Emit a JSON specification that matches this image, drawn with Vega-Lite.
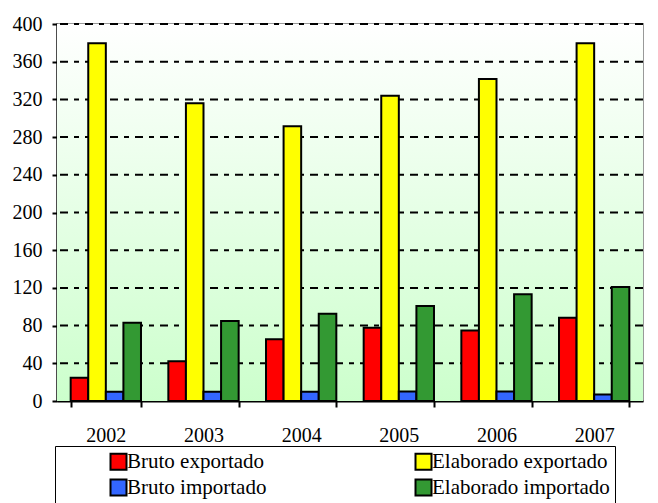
{
  "$schema": "https://vega.github.io/schema/vega-lite/v6.json",
  "width": 586,
  "height": 377,
  "autosize": "none",
  "padding": {"left": 57, "top": 24, "right": 15, "bottom": 102},
  "background": "white",
  "layer": [
    {
      "data": {"values": [{"lo": 0, "hi": 400}]},
      "mark": {
        "type": "rect",
        "color": {
          "gradient": "linear",
          "x1": 0, "y1": 0, "x2": 0, "y2": 1,
          "stops": [
            {"offset": 0, "color": "#ffffff"},
            {"offset": 1, "color": "#ccffcc"}
          ]
        }
      },
      "encoding": {
        "y": {
          "field": "lo",
          "type": "quantitative",
          "scale": {"domain": [0, 400], "nice": false},
          "axis": {
            "title": null,
            "values": [0, 40, 80, 120, 160, 200, 240, 280, 320, 360, 400],
            "labelOverlap": false
          }
        },
        "y2": {"field": "hi"}
      }
    },
    {
      "data": {"values": [{"v": 40}, {"v": 80}, {"v": 120}, {"v": 160}, {"v": 200}, {"v": 240}, {"v": 280}, {"v": 320}, {"v": 360}, {"v": 400}]},
      "mark": {"type": "rule", "color": "black", "strokeWidth": 2, "strokeDash": [8, 6, 5, 6]},
      "encoding": {
        "y": {
          "field": "v",
          "type": "quantitative",
          "axis": {
            "title": null,
            "values": [0, 40, 80, 120, 160, 200, 240, 280, 320, 360, 400],
            "labelOverlap": false
          }
        }
      }
    },
    {
      "data": {
        "values": [
          {"year": "2002", "series": "Bruto exportado", "value": 24.6},
          {"year": "2002", "series": "Elaborado exportado", "value": 379.6},
          {"year": "2002", "series": "Bruto importado", "value": 9.8},
          {"year": "2002", "series": "Elaborado importado", "value": 83},
          {"year": "2003", "series": "Bruto exportado", "value": 42.3},
          {"year": "2003", "series": "Elaborado exportado", "value": 316},
          {"year": "2003", "series": "Bruto importado", "value": 9.8},
          {"year": "2003", "series": "Elaborado importado", "value": 84.8},
          {"year": "2004", "series": "Bruto exportado", "value": 65.4},
          {"year": "2004", "series": "Elaborado exportado", "value": 291.4},
          {"year": "2004", "series": "Bruto importado", "value": 9.8},
          {"year": "2004", "series": "Elaborado importado", "value": 92.7},
          {"year": "2005", "series": "Bruto exportado", "value": 77.8},
          {"year": "2005", "series": "Elaborado exportado", "value": 323.9},
          {"year": "2005", "series": "Bruto importado", "value": 10},
          {"year": "2005", "series": "Elaborado importado", "value": 100.7},
          {"year": "2006", "series": "Bruto exportado", "value": 74.9},
          {"year": "2006", "series": "Elaborado exportado", "value": 341.6},
          {"year": "2006", "series": "Bruto importado", "value": 10},
          {"year": "2006", "series": "Elaborado importado", "value": 113.2},
          {"year": "2007", "series": "Bruto exportado", "value": 88.4},
          {"year": "2007", "series": "Elaborado exportado", "value": 379.6},
          {"year": "2007", "series": "Bruto importado", "value": 6.9},
          {"year": "2007", "series": "Elaborado importado", "value": 121}
        ]
      },
      "mark": {"type": "bar", "stroke": "black", "strokeWidth": 2},
      "encoding": {
        "x": {
          "field": "year",
          "type": "nominal",
          "scale": {"paddingInner": 0.28, "paddingOuter": 0.14},
          "axis": {
            "title": null,
            "labelAngle": 0,
            "tickBand": "extent",
            "tickSize": 6,
            "labelPadding": 18
          }
        },
        "xOffset": {
          "field": "series",
          "sort": ["Bruto exportado", "Elaborado exportado", "Bruto importado", "Elaborado importado"],
          "scale": {"paddingInner": 0, "paddingOuter": 0}
        },
        "y": {
          "field": "value",
          "type": "quantitative",
          "axis": {
            "title": null,
            "values": [0, 40, 80, 120, 160, 200, 240, 280, 320, 360, 400],
            "labelOverlap": false
          }
        },
        "color": {
          "field": "series",
          "type": "nominal",
          "scale": {
            "domain": ["Bruto exportado", "Elaborado exportado", "Bruto importado", "Elaborado importado"],
            "range": ["#ff0000", "#ffff00", "#3366ff", "#339933"]
          },
          "legend": {
            "title": null,
            "orient": "none",
            "legendX": -2,
            "legendY": 422,
            "columns": 2,
            "direction": "horizontal",
            "strokeColor": "black",
            "fillColor": "white",
            "padding": 5,
            "symbolType": "square",
            "symbolSize": 256,
            "symbolStrokeColor": "black",
            "symbolStrokeWidth": 2,
            "symbolOpacity": 1,
            "symbolOffset": 48,
            "labelOffset": -2,
            "labelFont": "Liberation Serif",
            "labelFontSize": 21,
            "labelColor": "black",
            "labelLimit": 400,
            "columnPadding": 98,
            "rowPadding": 1,
            "labelExpr": "datum.label + '                    '"
          }
        }
      }
    }
  ],
  "config": {
    "font": "Liberation Serif",
    "view": {
      "stroke": "#999999",
      "strokeWidth": 2
    },
    "axis": {
      "labelOverlap": false,
      "grid": false,
      "tickWidth": 2,
      "tickColor": "black",
      "domainColor": "black",
      "domainWidth": 2,
      "labelFont": "Liberation Serif",
      "labelFontSize": 20,
      "labelColor": "black"
    },
    "axisY": {
      "tickSize": 5,
      "labelPadding": 10,
      "labelOverlap": false
    }
  }
}
